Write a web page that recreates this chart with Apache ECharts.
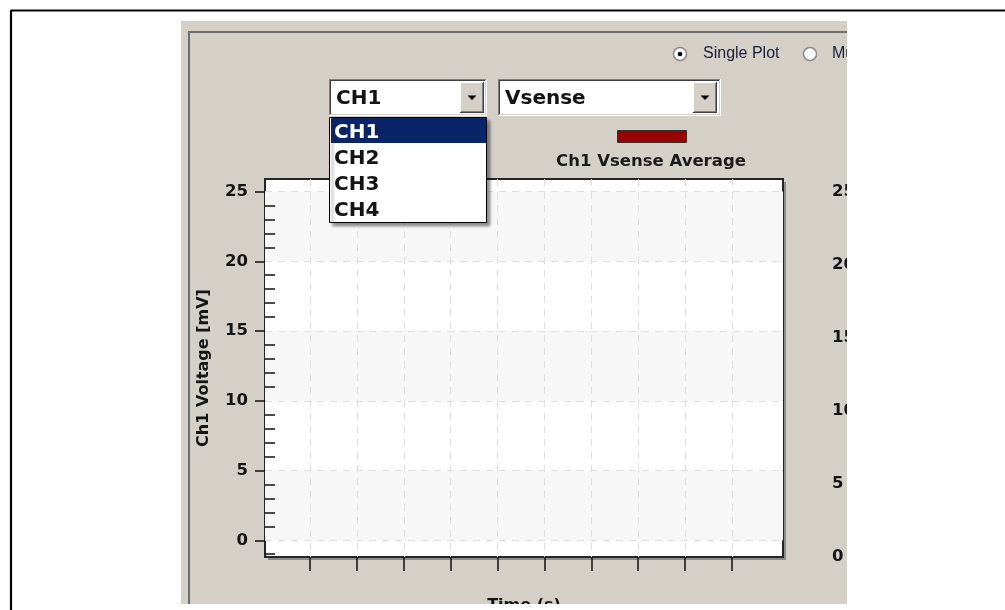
<!DOCTYPE html>
<html><head><meta charset="utf-8">
<script src="https://cdn.jsdelivr.net/npm/echarts@6/dist/echarts.min.js"></script>
<style>html,body{margin:0;padding:0;background:#fff}#c{width:1005px;height:610px}</style>
</head><body><div id="c"></div>
<script>
// ---- data ----
const leftTicks = [0, 5, 10, 15, 20, 25];
const leftMinorTicks = [-1, 1, 2, 3, 4, 6, 7, 8, 9, 11, 12, 13, 14, 16, 17, 18, 19, 21, 22, 23, 24];
const rightTicks = [0, 5, 10, 15, 20, 25];
const timeTicks = [1, 2, 3, 4, 5, 6, 7, 8, 9, 10];
const leftRange = [-1.2, 25.9];
const rightRange = [0, 25.9];
const timeRange = [0.04, 11.09];
const channelOptions = ['CH1', 'CH2', 'CH3', 'CH4'];
const selectedChannel = 'CH1';
const measureOption = 'Vsense';
const plotModes = ['Single Plot', 'Multi Plot'];
const seriesName = 'Ch1 Vsense Average';
const seriesValues = []; // no samples recorded yet
const leftAxisName = 'Ch1 Voltage [mV]';
const rightAxisName = 'Ch2 Voltage [mV]';
const timeAxisName = 'Time (s)';

// ---- widget drawing helpers ----
const G = [];
const line = (x1, y1, x2, y2, c, w = 1, z = 20) => G.push({type: 'line', z, silent: true, shape: {x1, y1, x2, y2}, style: {stroke: c, lineWidth: w}});
const rect = (x, y, w, h, style, z = 20, extra = {}) => G.push(Object.assign({type: 'rect', z, silent: true, shape: {x, y, width: w, height: h}, style}, extra));
const text = (x, y, t, font, fill, align = 'left', z = 22) => G.push({type: 'text', z, silent: true, x, y, style: {text: t, font, fill, align, verticalAlign: 'middle', textAlign: align, textVerticalAlign: 'middle'}});
const circle = (cx, cy, r, style, z = 20) => G.push({type: 'circle', z, silent: true, shape: {cx, cy, r}, style});

const UI = '"Liberation Sans", Arial, sans-serif';
const BOLD = '"DejaVu Sans", Verdana, sans-serif';

// panel background
rect(181, 21, 666, 583, {fill: '#d4d0c8'}, -10);
line(188, 32, 847, 32, '#6e6e6e', 2, -9);
line(189, 32, 189, 604, '#6e6e6e', 2, -9);
// drop shadow of the plot frame
rect(268, 182, 518, 378, {fill: '#8c8c8c'}, -8);

// radio buttons
circle(680, 54, 6.5, {fill: '#fff', stroke: '#8a8a8a', lineWidth: 1.5});
circle(680, 54, 2.3, {fill: '#000'});
text(703, 54, plotModes[0], '16px ' + UI, '#1c1c3a');
circle(810, 54, 6.5, {fill: '#fff', stroke: '#8a8a8a', lineWidth: 1.5});
text(832, 54, plotModes[1], '16px ' + UI, '#1c1c3a');

// combo box helper
function combo(x, y, w, h, label, btnX) {
  rect(x, y, w, h, {fill: '#fff'});
  line(x, y + 0.5, x + w, y + 0.5, '#808080');
  line(x + 0.5, y, x + 0.5, y + h, '#808080');
  line(x + 1, y + 1.5, x + w - 1, y + 1.5, '#404040');
  line(x + 1.5, y + 1, x + 1.5, y + h - 1, '#404040');
  line(x, y + h - 0.5, x + w, y + h - 0.5, '#ffffff');
  line(x + w - 0.5, y, x + w - 0.5, y + h, '#ffffff');
  line(x + 1, y + h - 1.5, x + w - 1, y + h - 1.5, '#d4d0c8');
  line(x + w - 1.5, y + 1, x + w - 1.5, y + h - 1, '#d4d0c8');
  const by = y + 3, bh = h - 6, bw = 24;
  rect(btnX, by, bw, bh, {fill: '#d4d0c8'});
  line(btnX, by + 0.5, btnX + bw, by + 0.5, '#ffffff');
  line(btnX + 0.5, by, btnX + 0.5, by + bh, '#ffffff');
  line(btnX, by + bh - 0.5, btnX + bw, by + bh - 0.5, '#404040');
  line(btnX + bw - 0.5, by, btnX + bw - 0.5, by + bh, '#404040');
  line(btnX + 1, by + bh - 1.5, btnX + bw - 1, by + bh - 1.5, '#808080');
  line(btnX + bw - 1.5, by + 1, btnX + bw - 1.5, by + bh - 1, '#808080');
  const ax = btnX + bw / 2, ay = y + h / 2;
  G.push({type: 'polygon', z: 21, silent: true, shape: {points: [[ax - 4.5, ay - 2], [ax + 4.5, ay - 2], [ax, ay + 2.5]]}, style: {fill: '#000'}});
  text(x + 7, y + h / 2 + 1.5, label, 'bold 20px ' + BOLD, '#141414');
}
combo(329, 79, 158, 37, selectedChannel, 460);
combo(498, 79, 223, 37, measureOption, 693);

// legend caption
text(651, 162, seriesName, 'bold 16.5px ' + BOLD, '#1a1a1a', 'center');

// open drop-down list
rect(329.5, 117.5, 157, 105, {fill: '#fff', stroke: '#000', lineWidth: 1, shadowColor: 'rgba(0,0,0,0.45)', shadowOffsetX: 3, shadowOffsetY: 3, shadowBlur: 3}, 50);
channelOptions.forEach((ch, i) => {
  const cy = 131 + i * 26;
  const sel = ch === selectedChannel;
  if (sel) rect(331, 118, 155, 25, {fill: '#0a246a'}, 51);
  text(334, cy + 1.5, ch, 'bold 20px ' + BOLD, sel ? '#ffffff' : '#141414', 'left', 52);
});

// clipping of the screenshot edges
rect(847, 21, 160, 590, {fill: '#fff'}, 60);
rect(0, 604, 1005, 10, {fill: '#fff'}, 60);
line(11, 10.5, 1005, 10.5, '#000', 2.2, 70);
line(11, 10, 11, 610, '#000', 2.2, 70);

const chart = echarts.init(document.getElementById('c'));
const tickStyle = {color: '#111', width: 1.5};
const labelFont = {fontFamily: BOLD, fontWeight: 'bold', fontSize: 16.5, color: '#141414'};
chart.setOption({
  backgroundColor: '#fff',
  animation: false,
  grid: {left: 265, top: 179, width: 518, height: 378, outerBoundsMode: 'none', containLabel: false,
         show: true, backgroundColor: '#fff', borderColor: '#262626', borderWidth: 2},
  legend: {data: [seriesName], left: 617, top: 130, padding: 0, icon: 'rect', itemWidth: 69, itemHeight: 12, selectedMode: false,
           formatter: () => '', itemStyle: {borderColor: '#333', borderWidth: 1}},
  xAxis: [{
    type: 'value', position: 'bottom', min: timeRange[0], max: timeRange[1],
    name: timeAxisName, nameLocation: 'middle', nameGap: 41,
    nameTextStyle: {fontFamily: BOLD, fontWeight: 'bold', fontSize: 16, color: '#141414'},
    axisLine: {show: false, onZero: false},
    axisTick: {show: true, inside: false, length: 14, lineStyle: tickStyle, customValues: timeTicks},
    axisLabel: {show: false, customValues: timeTicks},
    splitLine: {show: true, lineStyle: {color: '#dedede', type: [7, 6], width: 1}}
  }],
  yAxis: [{
    type: 'value', position: 'left', min: leftRange[0], max: leftRange[1],
    name: leftAxisName, nameLocation: 'middle', nameRotate: 90, nameGap: 53,
    nameTextStyle: {fontFamily: BOLD, fontWeight: 'bold', fontSize: 16, color: '#141414'},
    axisLine: {show: false, onZero: false},
    axisTick: {show: true, inside: false, length: 10, lineStyle: tickStyle, customValues: leftTicks},
    axisLabel: Object.assign({show: true, margin: 17, customValues: leftTicks}, labelFont),
    splitLine: {show: true, lineStyle: {color: '#dedede', type: [7, 6], width: 1}},
    splitArea: {show: true, areaStyle: {color: ['#f7f7f7', '#ffffff']}}
  }, {
    type: 'value', position: 'left', min: leftRange[0], max: leftRange[1],
    axisLine: {show: false, onZero: false},
    axisTick: {show: true, inside: true, length: 10, lineStyle: tickStyle, customValues: leftMinorTicks},
    axisLabel: {show: false, customValues: leftMinorTicks},
    splitLine: {show: false}, splitArea: {show: false}
  }, {
    type: 'value', position: 'right', min: rightRange[0], max: rightRange[1],
    name: rightAxisName, nameLocation: 'middle', nameRotate: 90, nameGap: 17,
    nameTextStyle: {fontFamily: BOLD, fontWeight: 'bold', fontSize: 16, color: '#141414'},
    axisLine: {show: false, onZero: false},
    axisTick: {show: false, customValues: rightTicks},
    axisLabel: Object.assign({show: true, margin: 49, align: 'left', customValues: rightTicks}, labelFont),
    splitLine: {show: false}, splitArea: {show: false}
  }],
  series: [{
    name: seriesName, type: 'line', xAxisIndex: 0, yAxisIndex: 0, data: seriesValues,
    itemStyle: {color: '#990000'}, lineStyle: {color: '#990000'}, showSymbol: false
  }],
  graphic: {elements: G}
});
</script></body></html>
